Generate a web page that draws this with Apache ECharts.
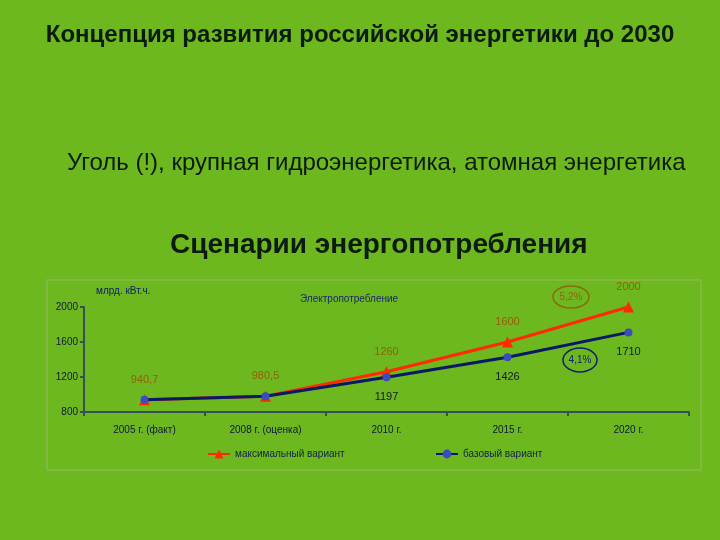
<!DOCTYPE html>
<html lang="ru">
<head>
<meta charset="UTF-8">
<title>Сценарии энергопотребления</title>
<style>
  html, body { margin: 0; padding: 0; background: #6db71f; }
  #chart { width: 720px; height: 540px; }
</style>
</head>
<body>
<div id="chart"></div>
<script src="https://cdn.jsdelivr.net/npm/echarts@6/dist/echarts.min.js"></script>
<script>
// данные
var years = ['2005 г. (факт)', '2008 г. (оценка)', '2010 г.', '2015 г.', '2020 г.']
var maxVariant = [940.7, 980.5, 1260, 1600, 2000]
var baseVariant = [940.7, 980.5, 1197, 1426, 1710]
// подписи базового варианта только с 2010 г.
var baseLabelShown = [false, false, true, true, true]
var yTicks = { min: 800, max: 2000, step: 400 }

var font = '"Liberation Sans", Arial, sans-serif'

function fmt(v) {
  return String(v).replace('.', ',')
}

var chart = echarts.init(document.getElementById('chart'))

var options = {
  backgroundColor: '#6db71f',
  textStyle: { fontFamily: font },
  grid: { left: 84, right: 31, top: 307, bottom: 128 },
  legend: [
    {
      data: ['максимальный вариант'],
      left: 202, top: 444,
      itemWidth: 22, itemHeight: 11,
      textStyle: { fontSize: 10, color: '#14204a', fontFamily: font }
    },
    {
      data: ['базовый вариант'],
      left: 430, top: 444,
      itemWidth: 22, itemHeight: 11,
      textStyle: { fontSize: 10, color: '#14204a', fontFamily: font }
    }
  ],
  xAxis: {
    type: 'category',
    data: years,
    boundaryGap: true,
    axisLine: { lineStyle: { color: '#35505a', width: 2 } },
    axisTick: { show: true, inside: false, length: 4, lineStyle: { color: '#35505a', width: 2 } },
    axisLabel: { color: '#101838', fontSize: 10, margin: 13, fontFamily: font }
  },
  yAxis: {
    type: 'value',
    min: yTicks.min,
    max: yTicks.max,
    interval: yTicks.step,
    splitLine: { show: false },
    axisLine: { show: true, lineStyle: { color: '#35505a', width: 2 } },
    axisTick: { show: true, length: 4, lineStyle: { color: '#35505a', width: 2 } },
    axisLabel: {
      color: '#101838', fontSize: 10, margin: 6, fontFamily: font,
      formatter: function (v) { return String(v) }
    }
  },
  series: [
    {
      name: 'максимальный вариант',
      type: 'line',
      data: maxVariant,
      symbol: 'triangle',
      symbolSize: 11,
      z: 2,
      lineStyle: { color: '#ff2a00', width: 3 },
      itemStyle: { color: '#ff2a00' },
      label: {
        show: true,
        position: 'top',
        distance: 9,
        color: '#94600a',
        fontSize: 11,
        fontFamily: font,
        formatter: function (p) { return fmt(p.value) }
      }
    },
    {
      name: 'базовый вариант',
      type: 'line',
      data: baseVariant,
      symbol: 'circle',
      symbolSize: 8,
      z: 3,
      lineStyle: { color: '#0a1868', width: 3 },
      itemStyle: { color: '#3a4cc0' },
      label: {
        show: true,
        position: 'bottom',
        distance: 10,
        color: '#121830',
        fontSize: 11,
        fontFamily: font,
        formatter: function (p) {
          return baseLabelShown[p.dataIndex] ? fmt(p.value) : ''
        }
      }
    }
  ],
  graphic: [
    {
      type: 'rect',
      shape: { x: 47, y: 280, width: 654, height: 190 },
      style: { fill: 'none', stroke: '#86b94c', lineWidth: 1.5 },
      silent: true
    },
    {
      type: 'text', left: 'center', top: 23,
      style: {
        text: 'Концепция развития российской энергетики до 2030',
        font: 'bold 24px ' + font, fill: '#0c1a10'
      }
    },
    {
      type: 'text', x: 67, y: 151,
      style: {
        text: 'Уголь (!), крупная гидроэнергетика, атомная энергетика',
        font: '24px ' + font, fill: '#0c1a10'
      }
    },
    {
      type: 'text', x: 170, y: 231,
      style: {
        text: 'Сценарии энергопотребления',
        font: 'bold 28px ' + font, fill: '#0c1a10'
      }
    },
    {
      type: 'text', x: 96, y: 286,
      style: { text: 'млрд. кВт.ч.', font: '10px ' + font, fill: '#101c60' }
    },
    {
      type: 'text', x: 300, y: 294,
      style: { text: 'Электропотребление', font: '10px ' + font, fill: '#1c2a66' }
    },
    {
      type: 'ellipse',
      shape: { cx: 571, cy: 297, rx: 18, ry: 11 },
      style: { fill: 'none', stroke: '#8a6a10', lineWidth: 1.5 }
    },
    {
      type: 'text', x: 571, y: 297,
      style: { text: '5,2%', font: '10px ' + font, fill: '#8a6a10', align: 'center', verticalAlign: 'middle' }
    },
    {
      type: 'ellipse',
      shape: { cx: 580, cy: 360, rx: 17, ry: 12 },
      style: { fill: 'none', stroke: '#102070', lineWidth: 1.5 }
    },
    {
      type: 'text', x: 580, y: 360,
      style: { text: '4,1%', font: '10px ' + font, fill: '#102070', align: 'center', verticalAlign: 'middle' }
    }
  ]
}

chart.setOption(options)
</script>
</body>
</html>
